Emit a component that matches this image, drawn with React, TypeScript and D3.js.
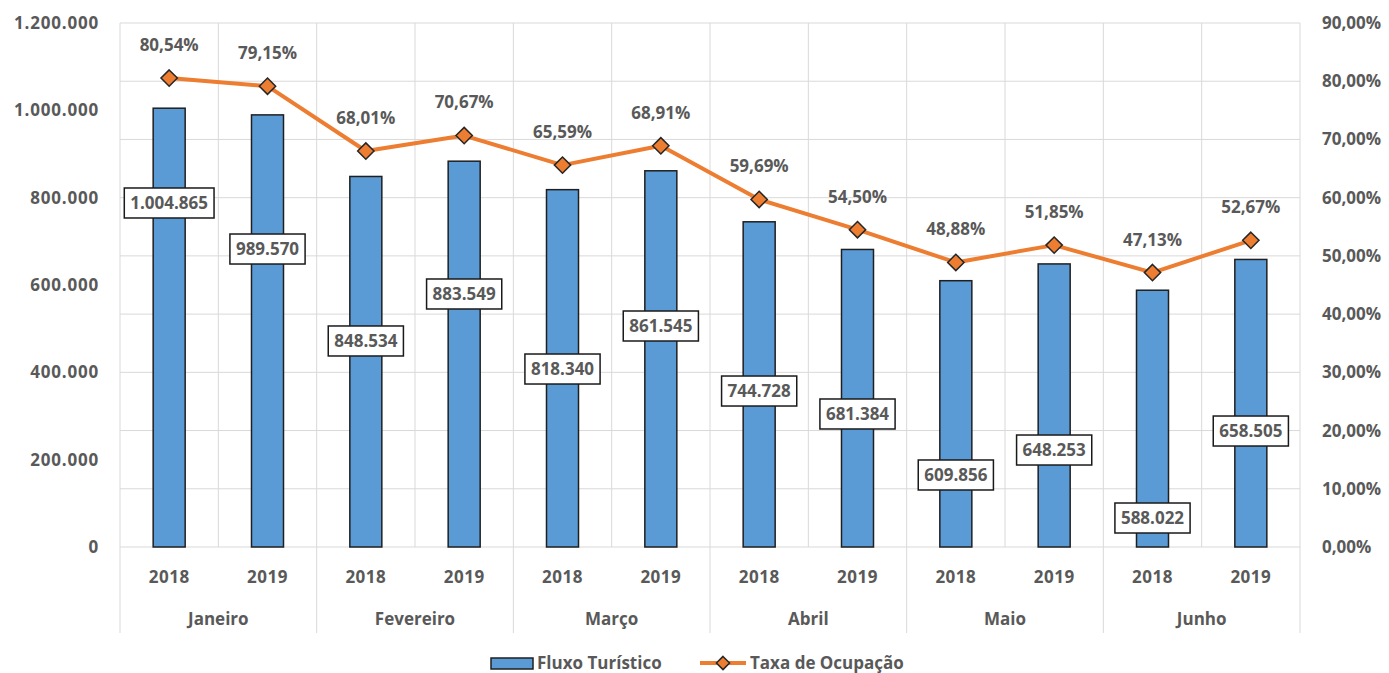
import { useEffect, useRef } from "react";
import * as d3 from "d3";

const months = ["Janeiro", "Fevereiro", "Março", "Abril", "Maio", "Junho"];
const years = ["2018", "2019"];
const fluxo = [1004865, 989570, 848534, 883549, 818340, 861545, 744728, 681384, 609856, 648253, 588022, 658505];
const taxa = [80.54, 79.15, 68.01, 70.67, 65.59, 68.91, 59.69, 54.5, 48.88, 51.85, 47.13, 52.67];
// where Excel left each bar's value box, in left-axis units
const boxAt = [787800, 682400, 471800, 579400, 407600, 506100, 357200, 304600, 164900, 222100, 66400, 265600];
const leftTicks = [0, 200000, 400000, 600000, 800000, 1000000, 1200000];
const rightTicks = [0, 10, 20, 30, 40, 50, 60, 70, 80, 90];

const BLUE = "#5B9BD5";
const ORANGE = "#ED7D31";
const TXT = "#595959";
const GRID = "#D9D9D9";
const FONT = "'Open Sans', sans-serif";
const FS = 17;

const ptBR = (v: number) => d3.format(",d")(v).replace(/,/g, ".");
const pct = (v: number) => v.toFixed(2).replace(".", ",") + "%";

export default function App() {
  const svgRef = useRef<SVGSVGElement>(null);

  useEffect(() => {
    document.body.style.margin = "0";
    if (!svgRef.current) return;
    const width = 1389;
    const height = 673;
    const margin = { top: 23, right: 89, bottom: 126, left: 120 };
    const x0 = margin.left, x1 = width - margin.right;
    const y0 = height - margin.bottom, y1 = margin.top;

    const svg = d3.select(svgRef.current);
    svg.selectAll("*").remove();
    svg.attr("width", width).attr("height", height).style("font-family", FONT);

    const keys = months.flatMap((m) => years.map((y) => `${m}-${y}`));
    const x = d3.scaleBand().domain(keys).range([x0, x1]).paddingInner(0).paddingOuter(0);
    const yL = d3.scaleLinear().domain([0, 1200000]).range([y0, y1]);
    const yR = d3.scaleLinear().domain([0, 90]).range([y0, y1]);
    const barW = 32;

    // Grid (follows the right axis)
    svg.append("g").selectAll("line").data(rightTicks).join("line")
      .attr("x1", x0).attr("x2", x1)
      .attr("y1", (d) => yR(d)).attr("y2", (d) => yR(d))
      .attr("stroke", GRID).attr("stroke-width", 1);
    svg.append("g").selectAll("line").data(keys).join("line")
      .attr("x1", (d) => x(d)!).attr("x2", (d) => x(d)!)
      .attr("y1", y1).attr("y2", (d, i) => (i % 2 === 0 ? 633 : y0))
      .attr("stroke", GRID).attr("stroke-width", 1);
    svg.append("line").attr("x1", x1).attr("x2", x1).attr("y1", y1).attr("y2", 633)
      .attr("stroke", GRID).attr("stroke-width", 1);

    // Bars
    svg.append("g").selectAll("rect").data(fluxo).join("rect")
      .attr("x", (d, i) => x(keys[i])! + x.bandwidth() / 2 - barW / 2)
      .attr("y", (d) => yL(d))
      .attr("width", barW)
      .attr("height", (d) => y0 - yL(d))
      .attr("fill", BLUE).attr("stroke", "#1f1f1f").attr("stroke-width", 1.5);

    // Line
    const cx = (i: number) => x(keys[i])! + x.bandwidth() / 2;
    const line = d3.line<number>().x((d, i) => cx(i)).y((d) => yR(d));
    svg.append("path").datum(taxa).attr("d", line)
      .attr("fill", "none").attr("stroke", ORANGE).attr("stroke-width", 4)
      .attr("stroke-linejoin", "round");
    const diamond = d3.symbol().type(d3.symbolDiamond2).size(170);
    svg.append("g").selectAll("path").data(taxa).join("path")
      .attr("d", diamond)
      .attr("transform", (d, i) => `translate(${cx(i)},${yR(d)})`)
      .attr("fill", ORANGE).attr("stroke", "#262626").attr("stroke-width", 1.5);
    svg.append("g").selectAll("text").data(taxa).join("text")
      .attr("x", (d, i) => cx(i)).attr("y", (d) => yR(d) - 33)
      .attr("dy", "0.35em")
      .attr("text-anchor", "middle").attr("fill", TXT)
      .attr("font-size", FS).attr("font-weight", 700)
      .text((d) => pct(d));

    // Bar value boxes
    const boxes = svg.append("g");
    fluxo.forEach((v, i) => {
      const g = boxes.append("g").attr("transform", `translate(${cx(i)},${yL(boxAt[i])})`);
      const t = g.append("text").attr("text-anchor", "middle").attr("dy", "0.35em")
        .attr("fill", TXT).attr("font-size", FS).attr("font-weight", 700)
        .text(ptBR(v));
      const w = (t.node() as SVGTextElement).getComputedTextLength() + 12;
      g.insert("rect", "text").attr("x", -w / 2).attr("y", -15).attr("width", w).attr("height", 30)
        .attr("fill", "#fff").attr("stroke", "#1a1a1a").attr("stroke-width", 1.5);
    });

    // Left axis
    svg.append("g").selectAll("text").data(leftTicks).join("text")
      .attr("x", 99).attr("y", (d) => yL(d)).attr("dy", "0.35em")
      .attr("text-anchor", "end").attr("fill", TXT)
      .attr("font-size", FS).attr("font-weight", 700).attr("letter-spacing", 0.8)
      .text((d) => ptBR(d));

    // Right axis
    svg.append("g").selectAll("text").data(rightTicks).join("text")
      .attr("x", 1322).attr("y", (d) => yR(d)).attr("dy", "0.35em")
      .attr("text-anchor", "start").attr("fill", TXT)
      .attr("font-size", FS).attr("font-weight", 700)
      .text((d) => pct(d));

    // Category axis
    svg.append("g").selectAll("text").data(keys).join("text")
      .attr("x", (d) => x(d)! + x.bandwidth() / 2).attr("y", 577).attr("dy", "0.35em")
      .attr("text-anchor", "middle").attr("fill", TXT)
      .attr("font-size", FS).attr("font-weight", 700).attr("letter-spacing", 0.5)
      .text((d) => d.split("-")[1]);
    svg.append("g").selectAll("text").data(months).join("text")
      .attr("x", (d) => x(`${d}-2018`)! + x.bandwidth()).attr("y", 619).attr("dy", "0.35em")
      .attr("text-anchor", "middle").attr("fill", TXT)
      .attr("font-size", FS).attr("font-weight", 700)
      .text((d) => d);

    // Legend
    const lg = svg.append("g");
    lg.append("rect").attr("x", 491).attr("y", 658).attr("width", 42).attr("height", 11)
      .attr("fill", BLUE).attr("stroke", "#1f1f1f").attr("stroke-width", 1.5);
    lg.append("text").attr("x", 537).attr("y", 663).attr("dy", "0.35em")
      .attr("fill", TXT).attr("font-size", FS).attr("font-weight", 700).text("Fluxo Turístico");
    lg.append("line").attr("x1", 700).attr("x2", 746).attr("y1", 663).attr("y2", 663)
      .attr("stroke", ORANGE).attr("stroke-width", 4);
    lg.append("path").attr("d", d3.symbol().type(d3.symbolDiamond2).size(110))
      .attr("transform", "translate(723,663)")
      .attr("fill", ORANGE).attr("stroke", "#262626").attr("stroke-width", 1.5);
    lg.append("text").attr("x", 750).attr("y", 663).attr("dy", "0.35em")
      .attr("fill", TXT).attr("font-size", FS).attr("font-weight", 700).text("Taxa de Ocupação");
  }, []);

  return <svg ref={svgRef} style={{ display: "block" }} />;
}
